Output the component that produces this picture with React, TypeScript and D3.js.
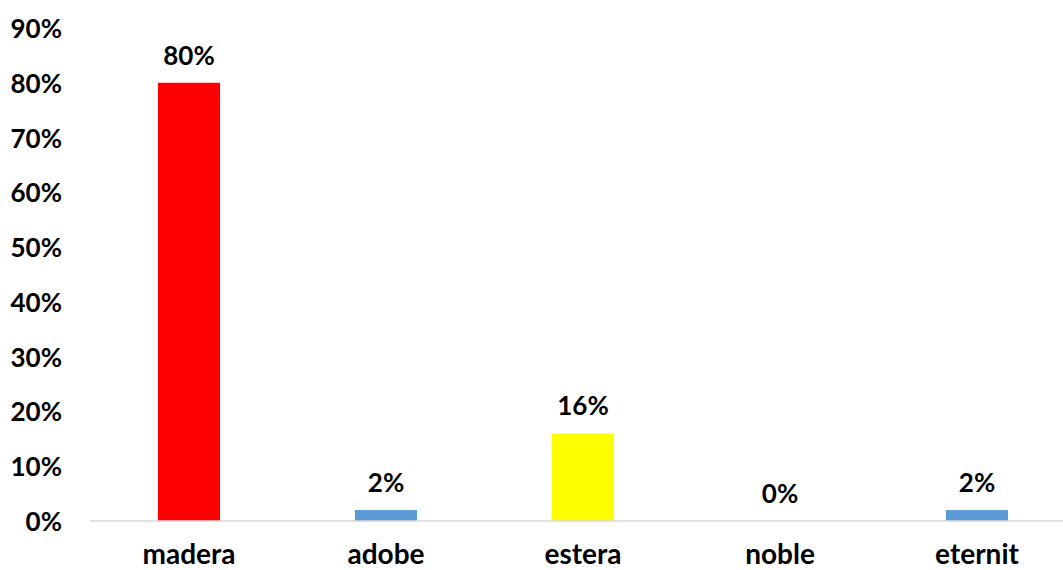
import React from "react";
import * as d3 from "d3";

const categories = ["madera", "adobe", "estera", "noble", "eternit"];
const values = [0.8, 0.02, 0.16, 0, 0.02];
const colors = ["#ff0000", "#5b9bd5", "#ffff00", "#5b9bd5", "#5b9bd5"];
const yTicks = [0, 0.1, 0.2, 0.3, 0.4, 0.5, 0.6, 0.7, 0.8, 0.9];

const W = 1063;
const H = 570;
const FONT = "Lato, 'Open Sans', sans-serif";

export default function App() {
  const x = d3
    .scaleBand<string>()
    .domain(categories)
    .range([90.5, 1075.5])
    .paddingInner(0.685)
    .paddingOuter(0.3425);
  const y = d3.scaleLinear().domain([0, 0.9]).range([521, 28]);
  const fmt = d3.format(".0%");
  return (
    <svg
      width={W}
      height={H}
      style={{ position: "absolute", left: 0, top: 0, background: "#fff" }}
      fontFamily={FONT}
      fontWeight="bold"
    >
      {yTicks.map((t) => (
        <text
          key={t}
          x={62}
          y={y(t)}
          textAnchor="end"
          dominantBaseline="central"
          fontSize={26}
          fill="#000"
        >
          {fmt(t)}
        </text>
      ))}
      {categories.map((c, i) => (
        <g key={c}>
          {values[i] > 0 && (
            <rect
              x={x(c)}
              y={y(values[i])}
              width={x.bandwidth()}
              height={y(0) - y(values[i])}
              fill={colors[i]}
            />
          )}
          <text
            x={(x(c) as number) + x.bandwidth() / 2}
            y={y(values[i]) - 28}
            textAnchor="middle"
            dominantBaseline="central"
            fontSize={26}
            fill="#000"
          >
            {fmt(values[i])}
          </text>
          <text
            x={(x(c) as number) + x.bandwidth() / 2}
            y={564}
            textAnchor="middle"
            fontSize={28}
            fill="#000"
          >
            {c}
          </text>
        </g>
      ))}
      <line x1={90} x2={W} y1={y(0)} y2={y(0)} stroke="#d9d9d9" strokeWidth={1.5} />
    </svg>
  );
}
